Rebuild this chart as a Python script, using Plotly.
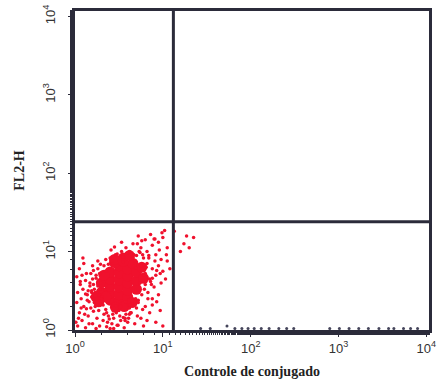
import plotly.graph_objects as go

# Log10 decade positions (x = Controle de conjugado, y = FL2-H)
core_lx = [0.30,0.30,0.40,0.40,0.40,0.40,0.40,0.50,0.50,0.50,0.50,0.50,0.50,
           0.60,0.60,0.60,0.60,0.60,0.70,0.70,0.70,0.46,0.56,0.33,0.66,0.45,0.55,0.35,0.65,0.45,0.55,0.78,
           0.24,0.27,0.76,0.62]
core_ly = [0.48,0.60,0.38,0.47,0.56,0.65,0.74,0.36,0.45,0.55,0.64,0.73,0.82,
           0.42,0.51,0.60,0.69,0.78,0.52,0.63,0.74,0.29,0.30,0.70,0.85,0.86,0.92,0.42,0.35,0.90,0.88,0.66,
           0.42,0.36,0.80,0.95]

dots_lx = [0.03,0.08,0.12,0.05,0.15,0.20,0.10,0.18,0.25,0.28,0.02,0.07,0.14,0.22,0.27,0.32,0.36,0.33,0.04,0.16,0.24,0.11,0.19,0.29,
           0.03,0.06,0.02,0.09,0.12,0.15,0.05,0.18,0.21,0.24,0.10,0.20,0.26,0.14,0.08,0.23,
           0.40,0.48,0.55,0.62,0.70,0.75,0.82,0.88,0.92,0.66,0.80,0.95,0.72,0.86,1.00,1.05,0.98,1.02,0.58,0.35,0.45,
           0.82,0.88,0.95,0.85,0.92,1.00,1.05,0.90,0.98,0.83,0.88,0.95,1.03,0.80,0.78,1.08,
           0.62,0.70,0.75,0.80,0.85,0.92,0.68,0.78,0.88,0.97,0.72,0.82,0.65,1.00,
           0.38,0.42,0.47,0.52,0.56,0.58,0.44,0.50,0.40,0.55,0.48,0.35,0.60,0.62,
           0.25,0.22,0.20,0.28,0.33,0.42,0.55,0.68,0.75,0.78,0.80,0.76,0.72,0.63,0.52,0.42,0.32,0.27,0.30,0.35,
           0.84,0.91,0.96,0.74,0.69,0.87,0.93,0.79,0.64,0.58,0.47,0.37,0.31,0.17,0.13,0.06,0.01,0.09,0.21,0.44,
           0.23,0.26,0.19,0.17,0.24,0.28,0.31,0.36,0.39,0.43,0.51,0.57,0.63,0.71,0.77,0.83,0.86,0.81,0.84,0.77,
           0.73,0.67,0.59,0.53,0.46,0.38,0.29,0.21,0.16,0.12,0.34,0.49,0.61,0.69,0.88,0.93,0.71,0.53,0.41,0.26,
           0.13,0.07,0.19,0.30,0.57,0.66,0.74,0.97,1.04,0.91,
           1.13,1.24,1.20,1.30,1.35,1.27,0.76,0.90,0.99]
dots_ly = [0.05,0.12,0.03,0.22,0.18,0.08,0.30,0.28,0.15,0.05,0.35,0.40,0.38,0.35,0.25,0.12,0.04,0.20,0.15,0.08,0.02,0.20,0.42,0.33,
           0.48,0.58,0.68,0.52,0.63,0.50,0.78,0.72,0.58,0.66,0.85,0.82,0.78,0.45,0.70,0.48,
           0.92,0.97,0.93,1.00,0.95,1.05,1.00,1.08,0.96,1.10,1.15,1.12,1.20,1.22,1.18,1.05,0.90,1.27,1.05,0.90,1.06,
           0.85,0.78,0.82,0.65,0.70,0.75,0.88,0.55,0.60,0.48,0.40,0.45,0.65,0.72,0.92,0.78,
           0.20,0.28,0.15,0.30,0.22,0.10,0.08,0.05,0.32,0.25,0.38,0.12,0.33,0.05,
           0.18,0.08,0.22,0.12,0.03,0.20,0.15,0.25,0.02,0.16,0.06,0.26,0.10,0.28,
           0.40,0.52,0.65,0.72,0.82,0.88,0.87,0.88,0.82,0.70,0.58,0.45,0.35,0.32,0.30,0.30,0.32,0.45,0.60,0.75,
           0.95,0.88,1.02,0.99,0.79,0.58,0.36,0.52,0.22,0.36,0.31,0.10,0.42,0.56,0.27,0.62,0.10,0.92,0.24,0.02,
           0.30,0.56,0.48,0.60,0.70,0.52,0.40,0.22,0.14,0.20,0.18,0.12,0.22,0.18,0.26,0.40,0.62,0.80,0.92,0.96,
           1.00,0.96,0.98,1.00,0.96,0.84,0.84,0.76,0.36,0.46,0.52,0.06,0.15,0.40,0.66,0.76,1.10,1.12,1.02,0.88,
           0.72,0.28,0.50,0.40,0.15,0.92,0.60,0.72,0.96,1.16,
           1.26,1.10,1.00,1.05,1.18,1.20,1.14,1.16,1.24]

axis_lx = [1.43,1.54,1.73,1.82,1.90,1.97,2.04,2.12,2.21,2.32,2.41,2.49,2.90,3.01,3.12,3.23,3.34,3.46,3.57,3.63,3.74,3.82,3.90]
axis_ly = [0.02,0.02,0.05,0.02,0.02,0.02,0.02,0.02,0.02,0.02,0.02,0.02,0.02,0.02,0.02,0.02,0.02,0.02,0.02,0.02,0.02,0.02,0.02]

tick_vals = [1, 10, 100, 1000, 10000]
tick_text = ["10<sup>0</sup>", "10<sup>1</sup>", "10<sup>2</sup>", "10<sup>3</sup>", "10<sup>4</sup>"]
quad_x = 10 ** 1.12
quad_y = 10 ** 1.38

RED = "#f0112d"
DARK = "#2b2b3a"

fig = go.Figure()
fig.add_trace(go.Scatter(x=[10 ** v for v in core_lx], y=[10 ** v for v in core_ly], mode="markers",
                         marker=dict(size=11, color=RED, line=dict(width=0)), hoverinfo="skip"))
fig.add_trace(go.Scatter(x=[10 ** v for v in dots_lx], y=[10 ** v for v in dots_ly], mode="markers",
                         marker=dict(size=3.5, color=RED, line=dict(width=0)), hoverinfo="skip"))
fig.add_trace(go.Scatter(x=[10 ** v for v in axis_lx], y=[10 ** v for v in axis_ly], mode="markers",
                         marker=dict(size=3, color="#44445a", line=dict(width=0)), hoverinfo="skip"))

fig.add_shape(type="line", xref="x", yref="paper", x0=quad_x, x1=quad_x, y0=0, y1=1,
              line=dict(color=DARK, width=3))
fig.add_shape(type="line", xref="paper", yref="y", x0=0, x1=1, y0=quad_y, y1=quad_y,
              line=dict(color=DARK, width=3))

axis_common = dict(type="log", tickvals=tick_vals, ticktext=tick_text, showgrid=False, zeroline=False,
                   showline=True, mirror=True, linecolor=DARK, linewidth=3,
                   ticks="outside", ticklen=4, tickcolor=DARK, tickwidth=1,
                   minor=dict(ticks="outside", ticklen=2, tickcolor=DARK, showgrid=False),
                   ticklabeloverflow="allow",
                   tickfont=dict(family="Liberation Sans, Arial", size=13, color="#333"))

fig.update_layout(
    width=439, height=382,
    margin=dict(l=75, r=3, t=11, b=52),
    paper_bgcolor="white", plot_bgcolor="white", showlegend=False,
    xaxis=dict(range=[0, 4.03],
               title=dict(text="<b>Controle de conjugado</b>", standoff=12,
                          font=dict(family="Liberation Serif, Times New Roman", size=14, color="#222")),
               **axis_common),
    yaxis=dict(range=[0, 4.07], tickangle=-90, ticklabelstandoff=8,
               title=dict(text="<b>FL2-H</b>", standoff=14,
                          font=dict(family="Liberation Serif, Times New Roman", size=14, color="#222")),
               **axis_common),
)

fig.write_html("out.html")
